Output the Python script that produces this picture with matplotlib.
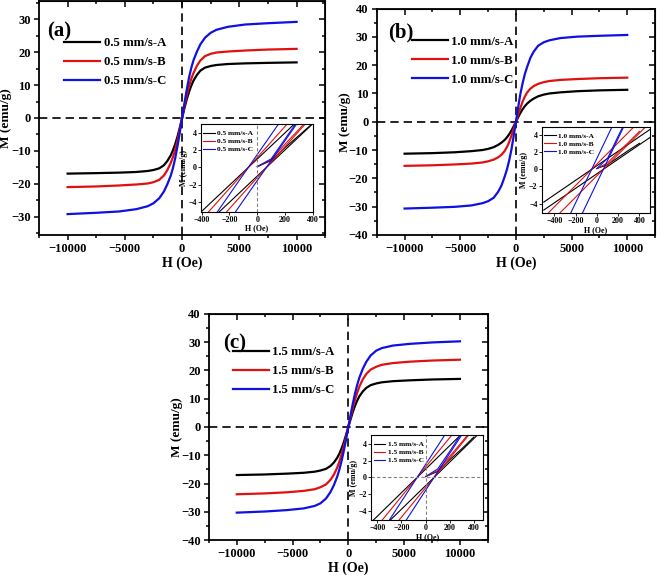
import matplotlib
matplotlib.use("Agg")
import matplotlib.pyplot as plt
from matplotlib.ticker import MultipleLocator

plt.rcParams['font.family'] = ['Liberation Serif', 'DejaVu Serif']
plt.rcParams['font.weight'] = 'bold'
plt.rcParams['axes.labelweight'] = 'bold'

# ---------------- main-curve data (H in Oe, M in emu/g) ----------------
H_main = [-10000, -7500, -5500, -4000, -3000, -2500, -2000, -1600, -1300, -1000, -800, -600, -400, -200,
          0, 200, 400, 600, 800, 1000, 1300, 1600, 2000, 2500, 3000, 4000, 5500, 7500, 10000]

M_a_A = [-16.9, -16.75, -16.6, -16.4, -16.1, -15.8, -15.3, -14.4, -13.1, -11.4, -9.8, -7.9, -5.6, -2.9,
         0.0, 2.9, 5.6, 7.9, 9.8, 11.4, 13.1, 14.4, 15.3, 15.8, 16.1, 16.4, 16.6, 16.75, 16.9]
M_a_B = [-21.0, -20.8, -20.5, -20.2, -19.9, -19.5, -18.8, -17.5, -15.9, -13.7, -11.9, -9.6, -6.8, -3.5,
         0.0, 3.5, 6.8, 9.6, 11.9, 13.7, 15.9, 17.5, 18.8, 19.5, 19.9, 20.2, 20.5, 20.8, 21.0]
M_a_C = [-29.2, -28.8, -28.4, -27.7, -26.8, -25.9, -24.4, -22.4, -20.2, -17.6, -15.2, -12.2, -8.5, -4.4,
         0.0, 4.4, 8.5, 12.2, 15.2, 17.6, 20.2, 22.4, 24.4, 25.9, 26.8, 27.7, 28.4, 28.8, 29.2]

M_b_A = [-11.3, -11.1, -10.8, -10.4, -10.0, -9.6, -9.0, -8.2, -7.4, -6.4, -5.5, -4.4, -3.1, -1.6,
         0.0, 1.6, 3.1, 4.4, 5.5, 6.4, 7.4, 8.2, 9.0, 9.6, 10.0, 10.4, 10.8, 11.1, 11.3]
M_b_B = [-15.6, -15.4, -15.1, -14.8, -14.4, -14.0, -13.4, -12.6, -11.7, -10.3, -8.9, -7.1, -4.9, -2.5,
         0.0, 2.5, 4.9, 7.1, 8.9, 10.3, 11.7, 12.6, 13.4, 14.0, 14.4, 14.8, 15.1, 15.4, 15.6]
M_b_C = [-30.7, -30.4, -30.1, -29.6, -28.8, -28.1, -26.9, -24.8, -22.6, -19.3, -16.8, -13.6, -9.8, -5.0,
         0.0, 5.0, 9.8, 13.6, 16.8, 19.3, 22.6, 24.8, 26.9, 28.1, 28.8, 29.6, 30.1, 30.4, 30.7]

M_c_A = [-17.0, -16.8, -16.5, -16.2, -15.8, -15.4, -14.8, -13.8, -12.6, -10.9, -9.4, -7.5, -5.3, -2.7,
         0.0, 2.7, 5.3, 7.5, 9.4, 10.9, 12.6, 13.8, 14.8, 15.4, 15.8, 16.2, 16.5, 16.8, 17.0]
M_c_B = [-23.8, -23.5, -23.1, -22.6, -22.0, -21.3, -20.3, -18.7, -16.9, -14.4, -12.2, -9.6, -6.7, -3.4,
         0.0, 3.4, 6.7, 9.6, 12.2, 14.4, 16.9, 18.7, 20.3, 21.3, 22.0, 22.6, 23.1, 23.5, 23.8]
M_c_C = [-30.3, -29.9, -29.4, -28.8, -27.9, -27.0, -25.3, -23.0, -20.6, -17.6, -15.0, -11.9, -8.3, -4.3,
         0.0, 4.3, 8.3, 11.9, 15.0, 17.6, 20.6, 23.0, 25.3, 27.0, 27.9, 28.8, 29.4, 29.9, 30.3]

# ---------------- inset (low-field loop) data ----------------
H_loop = [-500, -250, 0, 250, 500]
H_virgin = [0, 100, 200, 300, 400]

# panel (a)
La_A_desc = [-6.57, -2.79, 0.98, 4.76, 8.53]
La_A_asc = [-8.53, -4.76, -0.98, 2.79, 6.57]
La_B_desc = [-7.79, -3.31, 1.16, 5.64, 10.11]
La_B_asc = [-10.11, -5.64, -1.16, 3.31, 7.79]
La_C_desc = [-10.0, -4.26, 1.50, 7.25, 13.0]
La_C_asc = [-13.0, -7.25, -1.50, 4.26, 10.0]
Va_A = [0.1, 0.8, 2.3, 3.7, 5.1]
Va_B = [0.1, 0.9, 2.7, 4.4, 6.2]
Va_C = [0.1, 1.0, 3.3, 5.6, 7.9]

# panel (b)
Lb_A_desc = [-3.83, -1.70, 0.43, 2.55, 4.68]
Lb_A_asc = [-4.76, -2.64, -0.51, 1.62, 3.74]
Lb_B_desc = [-5.63, -2.50, 0.63, 3.75, 6.88]
Lb_B_asc = [-7.00, -3.88, -0.75, 2.38, 5.50]
Lb_C_desc = [-11.7, -5.2, 1.3, 7.8, 14.3]
Lb_C_asc = [-14.56, -8.06, -1.56, 4.94, 11.44]
Vb_A = [0.1, 0.55, 1.4, 2.25, 3.05]
Vb_B = [0.1, 0.75, 2.0, 3.2, 4.45]
Vb_C = [0.1, 1.3, 3.9, 6.4, 9.0]

# panel (c)
Lc_A_desc = [-6.02, -2.52, 0.98, 4.48, 7.98]
Lc_A_asc = [-7.98, -4.48, -0.98, 2.52, 6.02]
Lc_B_desc = [-7.53, -3.15, 1.23, 5.60, 9.98]
Lc_B_asc = [-9.98, -5.60, -1.23, 3.15, 7.53]
Lc_C_desc = [-9.46, -3.96, 1.54, 7.04, 12.54]
Lc_C_asc = [-12.54, -7.04, -1.54, 3.96, 9.46]
Vc_A = [0.1, 0.7, 2.1, 3.4, 4.8]
Vc_B = [0.1, 0.8, 2.5, 4.2, 5.95]
Vc_C = [0.1, 1.0, 3.1, 5.3, 7.5]

labels_a = ["0.5 mm/s-A", "0.5 mm/s-B", "0.5 mm/s-C"]
labels_b = ["1.0 mm/s-A", "1.0 mm/s-B", "1.0 mm/s-C"]
labels_c = ["1.5 mm/s-A", "1.5 mm/s-B", "1.5 mm/s-C"]
panel_letters = ["(a)", "(b)", "(c)"]
x_ticks_main = [-10000, -5000, 0, 5000, 10000]
x_ticks_inset = [-400, -200, 0, 200, 400]
y_ticks_inset = [-4, -2, 0, 2, 4]

colors = ['black', '#e01010', '#1010e0']

fig = plt.figure(figsize=(6.61, 5.77), dpi=100)


def style_main(ax, ylim, yticks):
    ax.set_xlim(-12500, 12500)
    ax.set_ylim(*ylim)
    ax.set_xticks(x_ticks_main)
    ax.set_yticks(yticks)
    ax.xaxis.set_minor_locator(MultipleLocator(2500))
    ax.yaxis.set_minor_locator(MultipleLocator(5))
    ax.tick_params(which='both', direction='out', labelsize=9, width=1.1, pad=2.5)
    ax.tick_params(which='major', length=3.5)
    ax.tick_params(which='minor', length=2)
    for s in ax.spines.values():
        s.set_linewidth(1.3)
    ax.set_xlabel("H (Oe)", fontsize=10, labelpad=1)
    ax.set_ylabel("M (emu/g)", fontsize=9.5)
    ax.yaxis.set_label_coords(-0.093, 0.5)
    ax.axhline(0, color='black', ls=(0, (5, 3)), lw=1.2, zorder=1)
    ax.axvline(0, color='black', ls=(0, (5, 3)), lw=1.2, zorder=1)
    axr = ax.secondary_yaxis('right')
    axr.set_yticks(yticks)
    axr.yaxis.set_minor_locator(MultipleLocator(5))
    axr.tick_params(which='both', direction='in', labelright=False, width=1.1)
    axr.tick_params(which='major', length=4)
    axr.tick_params(which='minor', length=2)
    axt = ax.secondary_xaxis('top')
    axt.set_xticks(x_ticks_main)
    axt.xaxis.set_minor_locator(MultipleLocator(2500))
    axt.tick_params(which='both', direction='in', labeltop=False, width=1.1)
    axt.tick_params(which='major', length=4)
    axt.tick_params(which='minor', length=2)


def make_main(rect, curves, labels, letter, ylim, yticks, leg_xy, let_xy):
    ax = fig.add_axes(rect)
    for M, c, lab in zip(curves, colors, labels):
        ax.plot(H_main, M, color=c, lw=1.6, label=lab, zorder=3)
    style_main(ax, ylim, yticks)
    ax.legend(loc='upper left', bbox_to_anchor=leg_xy, frameon=False, borderpad=0,
              borderaxespad=0, handlelength=2.8, handletextpad=0.3, labelspacing=0.55,
              prop={'size': 9.2, 'weight': 'bold'})
    ax.text(let_xy[0], let_xy[1], letter, transform=ax.transAxes, fontsize=15,
            fontweight='bold', va='center', ha='left')
    return ax


def make_inset(rect, loops, virgins, labels, xlim, hline, vline):
    ax = fig.add_axes(rect)
    ax.set_facecolor('white')
    ax.set_zorder(5)
    for (desc, asc), v, c, lab in zip(loops, virgins, colors, labels):
        ax.plot(H_loop, desc, color=c, lw=0.8, label=lab)
        ax.plot(H_loop, asc, color=c, lw=0.8)
        ax.plot(H_virgin, v, color=c, lw=0.8)
    if hline:
        ax.axhline(0, color='gray', ls=(0, (3, 2)), lw=0.8)
    if vline:
        ax.axvline(0, color='gray', ls=(0, (3, 2)), lw=0.8)
    ax.set_xlim(*xlim)
    ax.set_ylim(-5.1, 5.0)
    ax.set_xticks(x_ticks_inset)
    ax.set_yticks(y_ticks_inset)
    ax.tick_params(labelsize=5.8, length=2, width=0.6, pad=1)
    for s in ax.spines.values():
        s.set_linewidth(0.8)
    ax.set_xlabel("H (Oe)", fontsize=5.8, labelpad=0.5)
    ax.set_ylabel("M (emu/g)", fontsize=5.8, labelpad=0.5)
    ax.legend(loc='upper left', bbox_to_anchor=(0.02, 0.93), frameon=False, borderpad=0,
              borderaxespad=0, handlelength=1.6, handletextpad=0.3, labelspacing=0.25,
              prop={'size': 5.3, 'weight': 'bold'})
    return ax


make_main([0.059, 0.593, 0.433, 0.405], [M_a_A, M_a_B, M_a_C], labels_a, panel_letters[0],
          (-35.5, 35.5), [-30, -20, -10, 0, 10, 20, 30], (0.087, 0.845), (0.03, 0.87))
make_main([0.570, 0.593, 0.421, 0.392], [M_b_A, M_b_B, M_b_C], labels_b, panel_letters[1],
          (-40, 40), [-40, -30, -20, -10, 0, 10, 20, 30, 40], (0.126, 0.88), (0.04, 0.895))
make_main([0.316, 0.064, 0.422, 0.392], [M_c_A, M_c_B, M_c_C], labels_c, panel_letters[2],
          (-40, 40), [-40, -30, -20, -10, 0, 10, 20, 30, 40], (0.086, 0.858), (0.05, 0.87))

make_inset([0.304, 0.633, 0.1695, 0.152],
           [(La_A_desc, La_A_asc), (La_B_desc, La_B_asc), (La_C_desc, La_C_asc)],
           [Va_A, Va_B, Va_C], labels_a, (-405, 400), False, True)
make_inset([0.8195, 0.631, 0.164, 0.1495],
           [(Lb_A_desc, Lb_A_asc), (Lb_B_desc, Lb_B_asc), (Lb_C_desc, Lb_C_asc)],
           [Vb_A, Vb_B, Vb_C], labels_b, (-520, 500), False, False)
make_inset([0.5617, 0.0983, 0.169, 0.1473],
           [(Lc_A_desc, Lc_A_asc), (Lc_B_desc, Lc_B_asc), (Lc_C_desc, Lc_C_asc)],
           [Vc_A, Vc_B, Vc_C], labels_c, (-450, 475), True, True)

fig.savefig("out.png", dpi=100)
